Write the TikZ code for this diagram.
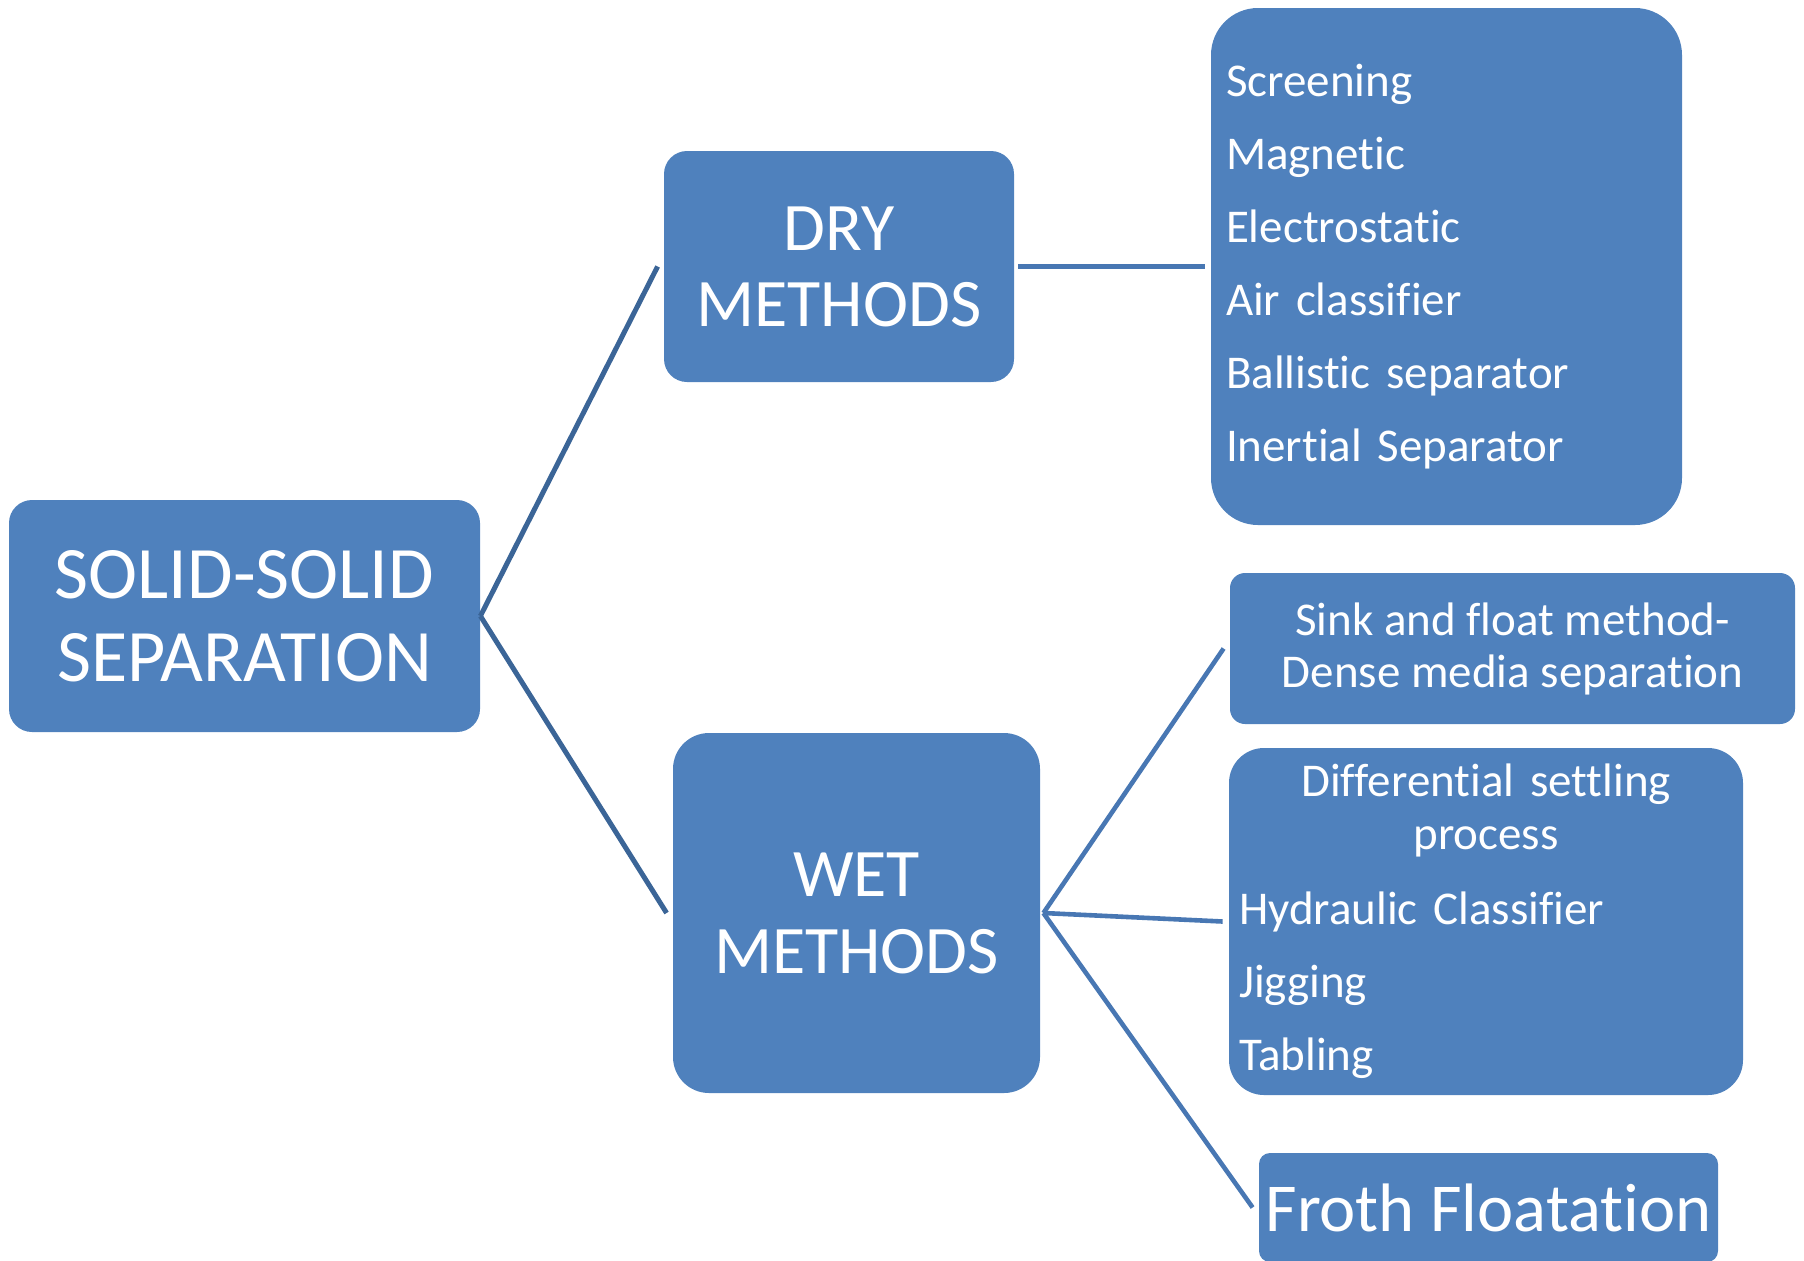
\documentclass[tikz,border=0pt]{standalone}
\usepackage{fontspec}
\setmainfont{Carlito}[RawFeature={-liga}]
\usepackage{xcolor}
\usepackage{tikz}

\definecolor{boxblue}{HTML}{4F81BD}
\definecolor{linkdark}{HTML}{3B6597}
\definecolor{linkblue}{HTML}{4877B3}

\begin{document}
\begin{tikzpicture}[x=0.5pt, y=-0.5pt,
  box/.style={fill=boxblue, text=white, inner sep=0pt, align=center},
  link/.style={line width=2.5pt, color=linkdark},
  wetlink/.style={line width=2.3pt, color=linkblue}]
 \useasboundingbox (0,0) rectangle (1804,1260);
  % main boxes
  \node[box, minimum width=235.5pt, minimum height=116pt, rounded corners=11.5pt,
        font=\fontsize{37}{41.5}\selectfont] (solid) at (244.5,616) {SOLID-SOLID\\SEPARATION};
  \node[box, minimum width=175pt, minimum height=115.5pt, rounded corners=11.5pt,
        font=\fontsize{34}{38}\selectfont] (dry) at (839,266.5) {DRY\\METHODS};
  \node[box, minimum width=183.5pt, minimum height=180pt, rounded corners=18pt,
        font=\fontsize{34}{38.5}\selectfont] (wet) at (856.5,913) {WET\\METHODS};
  % dry list
  \node[box, minimum width=235.5pt, minimum height=258.5pt, rounded corners=23.5pt,
        align=left, text width=220.5pt, font=\fontsize{23.5}{36.5}\selectfont] (drylist) at (1446.5,266.5)
   {Screening\\Magnetic\\Electrostatic\\Air classifier\\Ballistic separator\\Inertial Separator};
  % wet lists
  \node[box, minimum width=282.5pt, minimum height=75.5pt, rounded corners=7.5pt,
        font=\fontsize{23.5}{26}\selectfont] (sink) at (1512.5,648.5)
   {Sink and float method-\\Dense media separation};
  \node[box, minimum width=257pt, minimum height=173.5pt, rounded corners=17.5pt,
        align=left, text width=247pt, font=\fontsize{23.5}{26.5}\selectfont] (diff) at (1486,921.5)
   {\makebox[\linewidth]{Differential settling}\\\makebox[\linewidth]{process}\\[11pt]
    Hydraulic Classifier\\[10pt]Jigging\\[10pt]Tabling};
  \node[box, minimum width=229.5pt, minimum height=54.5pt, rounded corners=5.5pt,
        font=\fontsize{34.3}{38}\selectfont] (froth) at (1488.5,1207.5) {Froth Floatation};
  % connectors
  \draw[link] (solid.east) -- ([xshift=-3pt]dry.west);
  \draw[link] (solid.east) -- ([xshift=-3pt]wet.west);
  \draw[link, color=linkblue] ([xshift=2pt]dry.east) -- ([xshift=-3pt]drylist.west);
  \draw[wetlink] ([xshift=1.5pt]wet.east) -- ([xshift=-3pt]sink.west);
  \draw[wetlink] ([xshift=1.5pt]wet.east) -- ([xshift=-3pt]diff.west);
  \draw[wetlink] ([xshift=1.5pt]wet.east) -- ([xshift=-3pt]froth.west);
\end{tikzpicture}
\end{document}
